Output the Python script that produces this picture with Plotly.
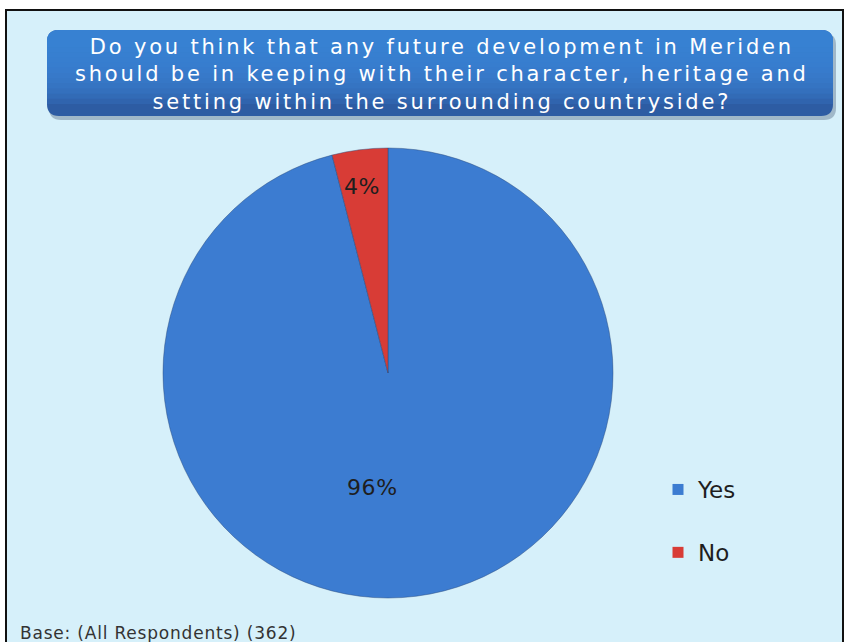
import plotly.graph_objects as go

# Survey answers (share of respondents, %)
answers = ["Yes", "No"]
shares = [96, 4]
slice_colors = ["#3c7cd1", "#d83c36"]
base_count = 362

title_lines = [
    "Do you think that any future development in Meriden",
    "should be in keeping with their character, heritage and",
    "setting within the surrounding countryside?",
]

W, H = 846, 642
FONT = "DejaVu Sans"


def px(x):
    return x / W


def py(y):
    return 1 - y / H


def spaced(text, gap):
    return f'<span style="letter-spacing:{gap}px">{text}</span>'


fig = go.Figure()

fig.add_trace(go.Pie(
    labels=answers,
    values=shares,
    sort=False,
    direction="clockwise",
    rotation=0,
    marker=dict(colors=slice_colors, line=dict(color="rgba(40,70,120,0.45)", width=1)),
    textinfo="none",
    hoverinfo="label+percent",
    showlegend=False,
    domain=dict(x=[px(163), px(613)], y=[py(598), py(148)]),
))

# Legend entries, one group per answer so the rows can be spaced apart
for name, col in zip(answers, slice_colors):
    fig.add_trace(go.Scatter(
        x=[None], y=[None], mode="markers", name=name, legendgroup=name,
        marker=dict(symbol="square", size=11, color=col),
        xaxis="x", yaxis="y",
    ))

# Slice labels
label_pos = {"Yes": (372, 487), "No": (362, 187)}
total = sum(shares)
for name, v in zip(answers, shares):
    x, y = label_pos[name]
    fig.add_annotation(
        x=px(x), y=py(y), xref="paper", yref="paper",
        xanchor="center", yanchor="middle",
        text=spaced(f"{round(100 * v / total)}%", 0.6), showarrow=False,
        font=dict(family=FONT, size=22, color="#1e1e1e"),
    )

# Panel background with frame
fig.add_shape(type="rect", xref="paper", yref="paper",
              x0=px(6), x1=px(843), y0=-0.05, y1=py(10),
              fillcolor="#d6f0fa", line=dict(color="#111111", width=2), layer="below")


def banner_path(x0, y0, x1, y1, r, round_bottom=True):
    # pixel coordinates converted to paper units; y0 is the top edge
    rx, ry = r / W, r / H
    X0, X1 = px(x0), px(x1)
    Y0, Y1 = py(y0), py(y1)
    top = (f"M {X0},{Y0 - ry} Q {X0},{Y0} {X0 + rx},{Y0} "
           f"L {X1 - rx},{Y0} Q {X1},{Y0} {X1},{Y0 - ry} ")
    if round_bottom:
        bottom = (f"L {X1},{Y1 + ry} Q {X1},{Y1} {X1 - rx},{Y1} "
                  f"L {X0 + rx},{Y1} Q {X0},{Y1} {X0},{Y1 + ry} Z")
    else:
        bottom = f"L {X1},{Y1} L {X0},{Y1} Z"
    return top + bottom


# Title banner: soft shadow, dark base, then lighter layers towards the top
fig.add_shape(type="path", xref="paper", yref="paper",
              path=banner_path(49, 33, 836, 120, 12),
              fillcolor="rgba(60,80,110,0.35)", line=dict(width=0))
fig.add_shape(type="path", xref="paper", yref="paper",
              path=banner_path(47, 30, 833, 116, 12),
              fillcolor="#2d5ca3", line=dict(width=0))
steps = 12
for k in range(steps):
    bottom = 104 - k * (62 / steps)
    fig.add_shape(type="path", xref="paper", yref="paper",
                  path=banner_path(47, 30, 833, bottom, 12, round_bottom=False),
                  fillcolor="rgba(60,130,215,0.22)", line=dict(width=0))

fig.add_annotation(
    x=px(442), y=py(74), xref="paper", yref="paper",
    xanchor="center", yanchor="middle", align="center",
    text="<br>".join(spaced(line, 2.8) for line in title_lines), showarrow=False,
    font=dict(family=FONT, size=21, color="white"),
)

fig.add_annotation(
    x=px(18), y=py(633), xref="paper", yref="paper",
    xanchor="left", yanchor="middle",
    text=spaced(f"Base: (All Respondents) ({base_count})", 0.8), showarrow=False,
    font=dict(family=FONT, size=17, color="#333333"),
)

fig.update_layout(
    width=W, height=H,
    margin=dict(l=0, r=0, t=0, b=0),
    paper_bgcolor="white",
    plot_bgcolor="rgba(0,0,0,0)",
    xaxis=dict(visible=False),
    yaxis=dict(visible=False),
    showlegend=True,
    legend=dict(
        x=px(658), y=py(468), xanchor="left", yanchor="top",
        bgcolor="rgba(0,0,0,0)", tracegroupgap=30,
        font=dict(family=FONT, size=23, color="#1e1e1e"),
        itemwidth=30,
    ),
)

fig.write_html("out.html")
